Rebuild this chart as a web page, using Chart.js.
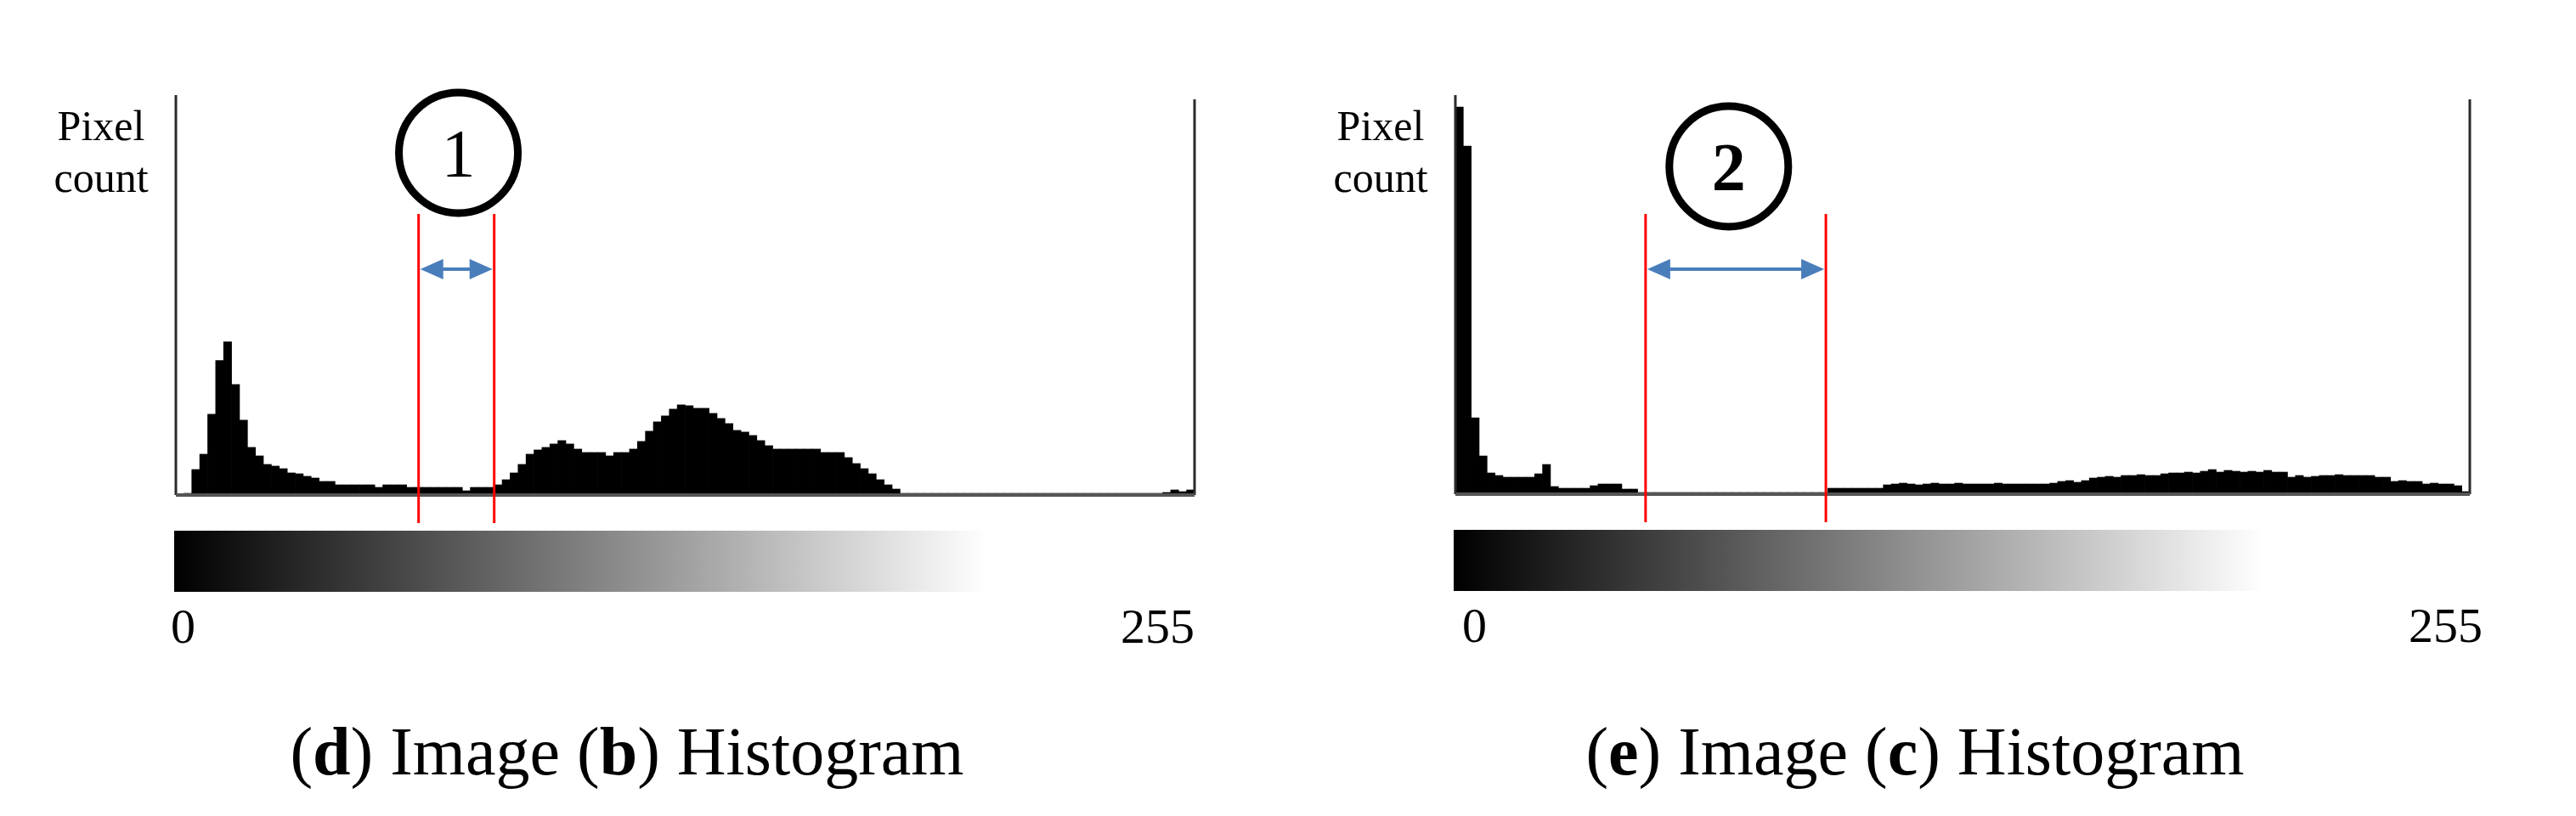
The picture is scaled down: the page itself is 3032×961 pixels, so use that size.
<!DOCTYPE html>
<html>
<head>
<meta charset="utf-8">
<title>Histograms</title>
<script src="https://cdn.jsdelivr.net/npm/chart.js@4.4.1/dist/chart.umd.min.js"></script>
<style>
  body { margin: 0; background: #fff; }
  .panel { position: absolute; top: 0; width: 1516px; height: 961px; }
</style>
</head>
<body>
<div class="panel" style="left:0"><canvas id="histB"></canvas></div>
<div class="panel" style="left:1516px"><canvas id="histC"></canvas></div>
<script>
// gray levels grouped two by two -> 128 bins over 0..255
var grayBins = [];
for (var i = 0; i < 128; i++) {
    grayBins.push((2 * i) + '-' + (2 * i + 1));
}

var axisTicks = ['0', '255'];
var countMax = 470;

// histogram of image (b), relative pixel counts
var countsB = [
    0, 2, 30, 48, 95, 158, 180, 130, 88, 56, 46, 36, 34, 31, 26, 25,
    22, 20, 16, 16, 12, 12, 12, 12, 12, 9, 12, 12, 12, 9, 9, 9,
    9, 9, 9, 9, 5, 9, 9, 9, 12, 18, 26, 36, 48, 53, 56, 60,
    64, 60, 54, 50, 50, 50, 46, 50, 50, 54, 63, 75, 86, 93, 101, 106,
    105, 102, 102, 96, 90, 84, 76, 74, 70, 64, 58, 54, 54, 54, 54, 54,
    54, 50, 50, 50, 44, 37, 31, 25, 18, 12, 7, 2, 2, 2, 2, 2,
    2, 2, 2, 2, 2, 2, 2, 2, 2, 2, 2, 2, 2, 2, 2, 2,
    2, 2, 2, 2, 2, 2, 2, 2, 2, 2, 2, 2, 3, 6, 4, 6
];

// histogram of image (c)
var countsC = [
    456, 410, 90, 45, 25, 22, 20, 20, 20, 20, 24, 35, 9, 7, 7, 7,
    7, 10, 12, 12, 12, 6, 6, 2, 2, 2, 2, 2, 2, 2, 2, 2,
    2, 2, 2, 2, 2, 2, 2, 2, 2, 2, 2, 2, 2, 2, 2, 7,
    7, 7, 7, 7, 7, 7, 11, 12, 13, 12, 11, 12, 13, 12, 12, 13,
    12, 12, 12, 12, 13, 12, 12, 12, 12, 12, 12, 13, 15, 16, 14, 16,
    19, 20, 21, 20, 22, 22, 23, 22, 22, 24, 25, 25, 26, 25, 27, 29,
    26, 28, 27, 26, 27, 26, 28, 26, 26, 20, 22, 20, 21, 22, 22, 23,
    22, 22, 22, 22, 20, 20, 15, 16, 15, 15, 12, 13, 12, 12, 10, 3
];

// gray-level ranges marked with red lines
var rangeB = [61, 80];
var rangeC = [48, 93.5];

var captionB = ['(', 'd', ') Image (', 'b', ') Histogram'];
var captionC = ['(', 'e', ') Image (', 'c', ') Histogram'];

var serif = "'Liberation Serif', 'Times New Roman', serif";

var histAnno = {
    id: 'histAnno',
    afterDraw: function (chart, args, o) {
        var ctx = chart.ctx;
        var a = chart.chartArea;
        var x = chart.scales.x;
        var gx = function (g) { return x.getPixelForValue(g / 2 - 0.5); };

        ctx.save();

        // axis frame
        ctx.strokeStyle = '#2a2a2a';
        ctx.lineWidth = 3;
        ctx.beginPath();
        ctx.moveTo(a.left, a.top);
        ctx.lineTo(a.left, a.bottom);
        ctx.moveTo(a.right, a.top + 5);
        ctx.lineTo(a.right, a.bottom);
        ctx.stroke();
        ctx.strokeStyle = '#555';
        ctx.lineWidth = 4;
        ctx.beginPath();
        ctx.moveTo(a.left, a.bottom);
        ctx.lineTo(a.right, a.bottom);
        ctx.stroke();

        // y axis caption
        ctx.fillStyle = '#000';
        ctx.font = '50px ' + serif;
        ctx.textAlign = 'center';
        ctx.fillText('Pixel', a.left - 88, a.top + 53);
        ctx.fillText('count', a.left - 88, a.top + 114);

        // gray scale bar
        var gEnd = gx(204);
        var grad = ctx.createLinearGradient(a.left, 0, gEnd, 0);
        grad.addColorStop(0, '#000');
        grad.addColorStop(0.03, '#080808');
        grad.addColorStop(1, '#fff');
        ctx.fillStyle = grad;
        ctx.fillRect(a.left - 2, a.bottom + 42, gEnd - a.left + 2, 72);

        // 0 / 255 ticks
        ctx.fillStyle = '#000';
        ctx.font = '58px ' + serif;
        ctx.textAlign = 'left';
        ctx.fillText(axisTicks[0], a.left + o.zeroDx, a.bottom + 174);
        ctx.textAlign = 'right';
        ctx.fillText(axisTicks[1], a.right + o.maxDx, a.bottom + 174);

        // red range lines
        var x1 = gx(o.range[0]), x2 = gx(o.range[1]);
        ctx.strokeStyle = '#ff0000';
        ctx.lineWidth = 3;
        ctx.beginPath();
        ctx.moveTo(x1, a.top + 140);
        ctx.lineTo(x1, a.bottom + 33);
        ctx.moveTo(x2, a.top + 140);
        ctx.lineTo(x2, a.bottom + 33);
        ctx.stroke();

        // double arrow
        var ay = a.top + 205, head = 27, hw = 12;
        var l = x1 + 2, r = x2 - 2;
        ctx.strokeStyle = '#4a7ebb';
        ctx.fillStyle = '#4a7ebb';
        ctx.lineWidth = 4;
        ctx.beginPath();
        ctx.moveTo(l + head - 2, ay);
        ctx.lineTo(r - head + 2, ay);
        ctx.stroke();
        ctx.beginPath();
        ctx.moveTo(l, ay);
        ctx.lineTo(l + head, ay - hw);
        ctx.lineTo(l + head, ay + hw);
        ctx.closePath();
        ctx.moveTo(r, ay);
        ctx.lineTo(r - head, ay - hw);
        ctx.lineTo(r - head, ay + hw);
        ctx.closePath();
        ctx.fill();

        // numbered circle
        var cx = gx(o.markGray), cy = a.top + o.markDy;
        ctx.strokeStyle = '#000';
        ctx.lineWidth = 9;
        ctx.beginPath();
        ctx.ellipse(cx, cy, 70, 71, 0, 0, Math.PI * 2);
        ctx.stroke();
        ctx.fillStyle = '#000';
        ctx.textAlign = 'center';
        ctx.font = (o.markBold ? 'bold ' : '') + '80px ' + serif;
        ctx.fillText(o.mark, cx, cy + 28);

        // caption with bold letters
        var parts = o.caption;
        var widths = [], total = 0;
        for (var i = 0; i < parts.length; i++) {
            ctx.font = (i % 2 === 1 ? 'bold ' : '') + '80px ' + serif;
            widths.push(ctx.measureText(parts[i]).width);
            total += widths[i];
        }
        var px = 738 - total / 2;
        ctx.textAlign = 'left';
        for (var j = 0; j < parts.length; j++) {
            ctx.font = (j % 2 === 1 ? 'bold ' : '') + '80px ' + serif;
            ctx.fillText(parts[j], px, 912);
            px += widths[j];
        }

        ctx.restore();
    }
};

function makeChart(id, counts, pad, anno) {
    return new Chart(document.getElementById(id), {
        type: 'bar',
        data: {
            labels: grayBins,
            datasets: [{
                data: counts,
                backgroundColor: '#000',
                borderWidth: 0,
                barPercentage: 1,
                categoryPercentage: 1
            }]
        },
        options: {
            responsive: true,
            maintainAspectRatio: false,
            animation: false,
            layout: { padding: pad },
            plugins: {
                legend: { display: false },
                tooltip: { enabled: false },
                histAnno: anno
            },
            scales: {
                x: { display: false },
                y: { display: false, min: 0, max: countMax }
            }
        },
        plugins: [histAnno]
    });
}

makeChart('histB', countsB, { left: 207, right: 110, top: 112, bottom: 378 }, {
    range: rangeB, markGray: 71, markDy: 68, mark: '1', markBold: false,
    zeroDx: -6, maxDx: 0, caption: captionB
});

makeChart('histC', countsC, { left: 197, right: 125, top: 112, bottom: 379 }, {
    range: rangeC, markGray: 69, markDy: 84, mark: '2', markBold: true,
    zeroDx: 8, maxDx: 15, caption: captionC
});
</script>
</body>
</html>
